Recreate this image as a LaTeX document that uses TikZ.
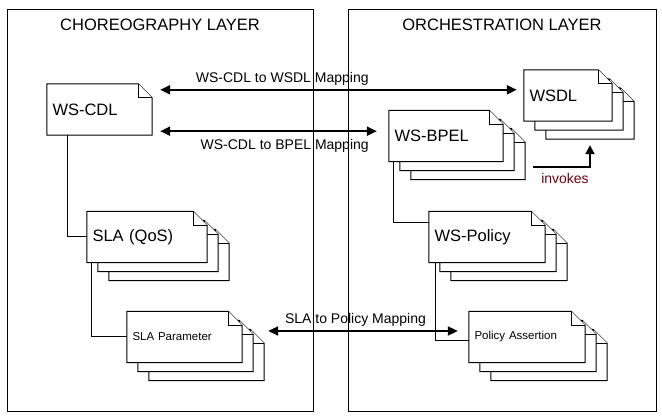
\documentclass[tikz,border=0pt]{standalone}
\usepackage{fontspec}
\setmainfont{Liberation Sans}
\usetikzlibrary{arrows.meta,calc,backgrounds}
\definecolor{invokered}{RGB}{110,0,20}
\newcommand\dogear{14}
% one page of a document, shifted by (#2,#3) from node #1
\newcommand\docpage[3]{%
  \filldraw[docline] ($(#1.south west)+(#2,#3)$) -- ($(#1.north west)+(#2,#3)$)
    -- ($(#1.north east)+(#2-\dogear,#3)$) -- ($(#1.north east)+(#2,#3-\dogear)$)
    -- ($(#1.south east)+(#2,#3)$) -- cycle;
  \draw[docline] ($(#1.north east)+(#2-\dogear,#3)$) |- ($(#1.north east)+(#2,#3-\dogear)$);}
\newcommand\docstack[1]{\docpage{#1}{22}{-18}\docpage{#1}{11}{-9}\docpage{#1}{0}{0}}
\begin{document}
\begin{tikzpicture}[
            x=1pt, y=1pt,
            layerframe/.style={draw, line width=1pt, minimum width=#1, minimum height=402pt, inner sep=0pt},
            layertitle/.style={font=\fontsize{16.5}{20}\selectfont},
            doc/.style={text width=#1, inner xsep=5.5pt, inner ysep=0pt, minimum height=51pt, align=left, font=\fontsize{16.5}{20}\selectfont},
            smalldoc/.style={font=\fontsize{11.5}{14}\selectfont},
            docline/.style={draw, fill=white, line width=1pt},
            link/.style={draw, line width=1pt},
            mapping/.style={line width=2pt, >={Triangle[length=10pt,width=9pt]}, <->},
            invoke/.style={line width=2pt, -{Triangle[length=9pt,width=9pt]}},
            lbl/.style={font=\fontsize{14}{17}\selectfont}
            ]
            \useasboundingbox (0,0) rectangle (662,420);
            % layers
            \node[layerframe=306pt] (choreo) at (160,209) {};
            \node[layerframe=308pt] (orch) at (502,209) {};
            \node[layertitle] (choreotitle) at (160,395) {CHOREOGRAPHY LAYER};
            \node[layertitle] (orchtitle) at (502,395) {ORCHESTRATION LAYER};
            % documents
            \node[doc=94pt] (cdl) at (99.5,310.5) {WS-CDL};
            \node[doc=77pt] (wsdl) at (568,324.5) {WSDL};
            \node[doc=103pt] (bpel) at (446,284) {WS-BPEL};
            \node[doc=109pt] (sla) at (147,183) {SLA (QoS)};
            \node[doc=104pt, smalldoc] (slapar) at (184.5,83) {SLA Parameter};
            \node[doc=105pt] (policy) at (487,183) {WS-Policy};
            \node[doc=105pt, smalldoc] (assert) at (527,83) {Policy Assertion};
            \begin{pgfonlayer}{background}
              \docpage{cdl}{0}{0}
              \foreach \d in {wsdl,bpel,sla,slapar,policy,assert} {\docstack{\d}}
            \end{pgfonlayer}
            % tree links
            \draw[link] ([xshift=21pt]cdl.south west) |- (sla.west);
            \draw[link] ([xshift=5pt]sla.south west) |- (slapar.west);
            \draw[link] ([xshift=5pt]bpel.south west) |- ([yshift=-11pt]policy.north west);
            \draw[link] ([xshift=7pt]policy.south west) |- ([yshift=-4pt]assert.west);
            % mappings
            \coordinate (m1) at ([yshift=-6pt]cdl.north east);
            \coordinate (m2) at ([yshift=4pt]cdl.south east);
            \coordinate (m3) at ([yshift=6pt]slapar.east);
            \draw[mapping, shorten <=8pt, shorten >=7pt] (m1) -- (m1 -| wsdl.west)
              node[lbl, pos=0.35, above] {WS-CDL to WSDL Mapping};
            \draw[mapping, shorten <=8pt, shorten >=12pt] (m2) -- (m2 -| bpel.west)
              node[lbl, pos=0.56, below, yshift=-3.5pt] {WS-CDL to BPEL Mapping};
            \draw[mapping, shorten <=26pt, shorten >=11pt] (m3) -- (m3 -| assert.west)
              node[lbl, midway, above] {SLA to Policy Mapping};
            \draw[invoke] ([xshift=30pt,yshift=-5pt]bpel.south east) -| ([xshift=22pt,yshift=-24pt]wsdl.south)
              node[lbl, pos=0.28, below, yshift=-2pt, text=invokered] {invokes};
        \end{tikzpicture}
\end{document}
